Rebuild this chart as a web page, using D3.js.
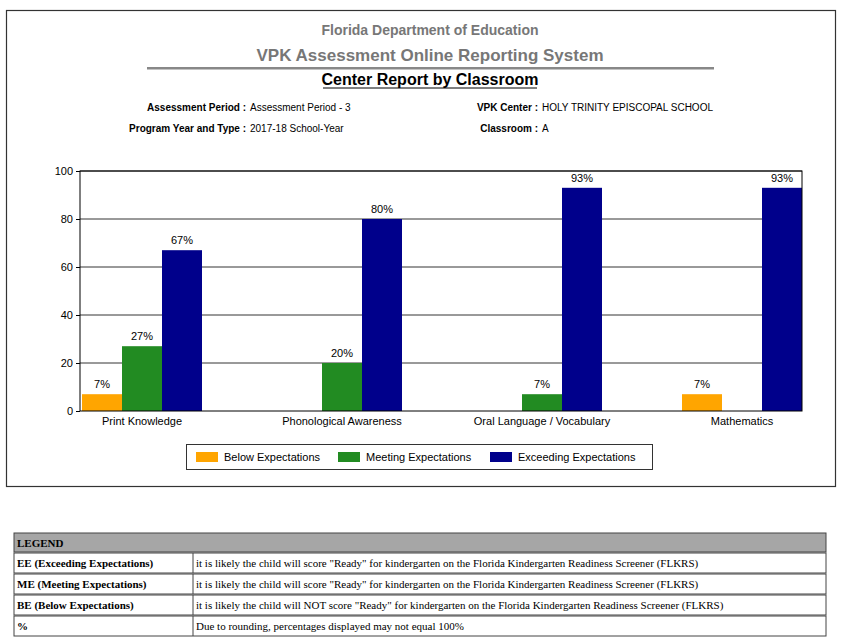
<!DOCTYPE html>
<html>
<head>
<meta charset="utf-8">
<script src="https://d3js.org/d3.v7.min.js"></script>
<style>
body { margin:0; background:#fff; }
svg text { font-family: Arial, "Liberation Sans", sans-serif; }
</style>
</head>
<body>
<script>
var categories = ["Print Knowledge", "Phonological Awareness", "Oral Language / Vocabulary", "Mathematics"];
var seriesNames = ["Below Expectations", "Meeting Expectations", "Exceeding Expectations"];
var seriesColors = ["#FFA500", "#228B22", "#00008B"];
var below = [7, 0, 0, 7];
var meeting = [27, 20, 7, 0];
var exceeding = [67, 80, 93, 93];
var yTicks = [0, 20, 40, 60, 80, 100];
var legendRows = [
  ["EE (Exceeding Expectations)", "it is likely the child will score \"Ready\" for kindergarten on the Florida Kindergarten Readiness Screener (FLKRS)"],
  ["ME (Meeting Expectations)", "it is likely the child will score \"Ready\" for kindergarten on the Florida Kindergarten Readiness Screener (FLKRS)"],
  ["BE (Below Expectations)", "it is likely the child will NOT score \"Ready\" for kindergarten on the Florida Kindergarten Readiness Screener (FLKRS)"],
  ["%", "Due to rounding, percentages displayed may not equal 100%"]
];

var w = 844, h = 644;
var svg = d3.select("body").append("svg").attr("width", w).attr("height", h);

// outer report frame
svg.append("rect").attr("x", 6.5).attr("y", 10.5).attr("width", 829).attr("height", 476)
  .attr("fill", "none").attr("stroke", "#333").attr("stroke-width", 1.2);

svg.append("text").attr("x", 430).attr("y", 35).attr("text-anchor", "middle")
  .attr("font-size", 14).attr("font-weight", "bold").attr("fill", "#777").text("Florida Department of Education");
svg.append("text").attr("x", 430).attr("y", 61).attr("text-anchor", "middle")
  .attr("font-size", 17).attr("font-weight", "bold").attr("fill", "#777").text("VPK Assessment Online Reporting System");
svg.append("rect").attr("x", 147).attr("y", 67).attr("width", 567).attr("height", 2.5).attr("fill", "#888");
svg.append("text").attr("x", 430).attr("y", 85).attr("text-anchor", "middle")
  .attr("font-size", 16).attr("font-weight", "bold").attr("fill", "#000").text("Center Report by Classroom");
svg.append("line").attr("x1", 323).attr("x2", 537).attr("y1", 88).attr("y2", 88).attr("stroke", "#000");

function info(x, y, label, value) {
  svg.append("text").attr("x", x).attr("y", y).attr("font-size", 10).attr("text-anchor", "end")
    .attr("font-weight", "bold").text(label + " :");
  svg.append("text").attr("x", x + 4).attr("y", y).attr("font-size", 10).text(value);
}
info(246, 111, "Assessment Period", "Assessment Period - 3");
info(246, 132, "Program Year and Type", "2017-18 School-Year");
info(538, 111, "VPK Center", "HOLY TRINITY EPISCOPAL SCHOOL");
info(538, 132, "Classroom", "A");

// chart
var plotL = 80, plotR = 802, plotT = 171, plotB = 411;
var y = d3.scaleLinear().domain([0, 100]).range([plotB, plotT]);
var x0 = d3.scaleBand().domain(categories).range([42, 842]);
var x1 = d3.scaleBand().domain(seriesNames).range([40, 160]);

svg.append("g").selectAll("line").data(yTicks.slice(1)).enter().append("line")
  .attr("x1", plotL).attr("x2", plotR)
  .attr("y1", function(d) { return y(d); }).attr("y2", function(d) { return y(d); })
  .attr("stroke", "#000").attr("stroke-width", 0.8);

var data = [below, meeting, exceeding];
categories.forEach(function(c, i) {
  seriesNames.forEach(function(s, j) {
    var v = data[j][i];
    if (!v) return;
    var bx = x0(c) + x1(s);
    svg.append("rect").attr("x", bx).attr("y", y(v)).attr("width", x1.bandwidth())
      .attr("height", plotB - y(v)).attr("fill", seriesColors[j]);
    svg.append("text").attr("x", bx + x1.bandwidth() / 2).attr("y", y(v) - 6)
      .attr("text-anchor", "middle").attr("font-size", 11).text(v + "%");
  });
});

svg.append("rect").attr("x", plotL).attr("y", plotT).attr("width", plotR - plotL).attr("height", plotB - plotT)
  .attr("fill", "none").attr("stroke", "#000");

var yAxis = d3.axisLeft(y).tickValues(yTicks).tickSize(4).tickSizeOuter(0);
var ya = svg.append("g").attr("transform", "translate(" + plotL + ",0)").call(yAxis);
ya.select(".domain").remove();
ya.selectAll("text").attr("font-size", 11).attr("fill", "#000").attr("font-family", "Arial, sans-serif");

var xa = svg.append("g").attr("transform", "translate(0," + plotB + ")")
  .call(d3.axisBottom(x0).tickSize(0).tickPadding(6));
xa.select(".domain").remove();
xa.selectAll("text").attr("font-size", 11).attr("fill", "#000").attr("font-family", "Arial, sans-serif");

// legend
svg.append("rect").attr("x", 186.5).attr("y", 444.5).attr("width", 466).attr("height", 25)
  .attr("fill", "#fff").attr("stroke", "#333");
var lx = [196, 338, 490];
seriesNames.forEach(function(s, j) {
  svg.append("rect").attr("x", lx[j]).attr("y", 452).attr("width", 22).attr("height", 10).attr("fill", seriesColors[j]);
  svg.append("text").attr("x", lx[j] + 28).attr("y", 461).attr("font-size", 11).text(s);
});

// legend table
var tx = 14, tw = 812, col = 193, th = 19, ty = 533;
svg.append("rect").attr("x", tx).attr("y", ty).attr("width", tw).attr("height", th).attr("fill", "#a6a6a6").attr("stroke", "#444");
svg.append("text").attr("x", tx + 3).attr("y", ty + 14).attr("font-size", 11).attr("font-weight", "bold")
  .style("font-family", "'Liberation Serif', serif").text("LEGEND");
legendRows.forEach(function(r, i) {
  var ry = ty + th + i * 21;
  svg.append("rect").attr("x", tx).attr("y", ry + 1).attr("width", tw).attr("height", 20).attr("fill", "#fff").attr("stroke", "#444");
  svg.append("line").attr("x1", col).attr("x2", col).attr("y1", ry + 1).attr("y2", ry + 21).attr("stroke", "#444");
  svg.append("text").attr("x", tx + 3).attr("y", ry + 15).attr("font-size", 11).attr("font-weight", "bold")
    .style("font-family", "'Liberation Serif', serif").text(r[0]);
  svg.append("text").attr("x", col + 3).attr("y", ry + 15).attr("font-size", 11)
    .style("font-family", "'Liberation Serif', serif").text(r[1]);
});
</script>
</body>
</html>
